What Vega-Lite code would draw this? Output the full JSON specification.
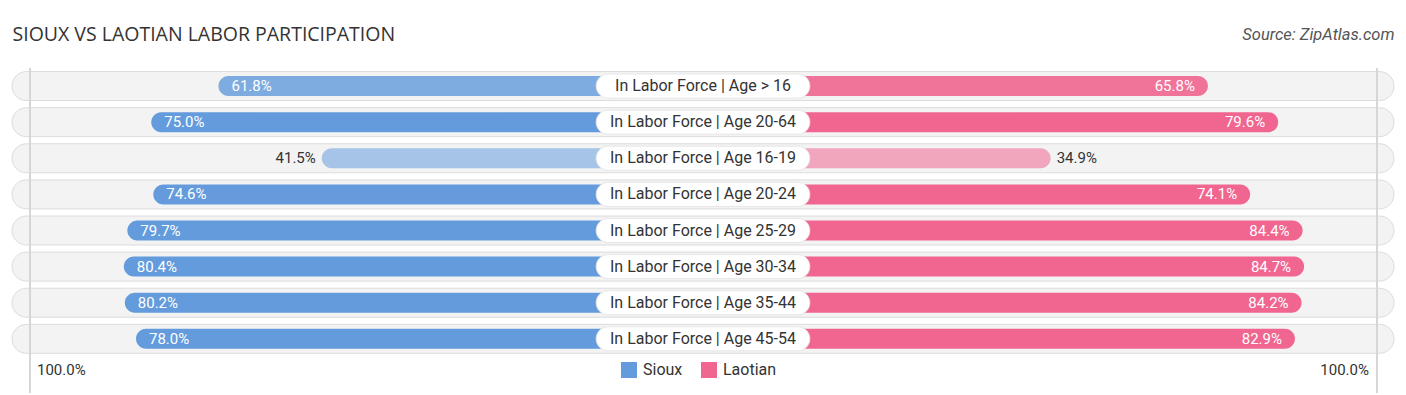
{
  "$schema": "https://vega.github.io/schema/vega-lite/v6.json",
  "width": 1382,
  "height": 325,
  "autosize": {"type": "none"},
  "padding": {"left": 12, "top": 68, "right": 12, "bottom": 2},
  "background": "white",
  "config": {"view": {"stroke": null}, "font": "Roboto"},
  "data": {
    "values": [
      {"group": "In Labor Force | Age > 16", "series": "Sioux", "value": 0.618},
      {"group": "In Labor Force | Age > 16", "series": "Laotian", "value": 0.658},
      {"group": "In Labor Force | Age 20-64", "series": "Sioux", "value": 0.750},
      {"group": "In Labor Force | Age 20-64", "series": "Laotian", "value": 0.796},
      {"group": "In Labor Force | Age 16-19", "series": "Sioux", "value": 0.415},
      {"group": "In Labor Force | Age 16-19", "series": "Laotian", "value": 0.349},
      {"group": "In Labor Force | Age 20-24", "series": "Sioux", "value": 0.746},
      {"group": "In Labor Force | Age 20-24", "series": "Laotian", "value": 0.741},
      {"group": "In Labor Force | Age 25-29", "series": "Sioux", "value": 0.797},
      {"group": "In Labor Force | Age 25-29", "series": "Laotian", "value": 0.844},
      {"group": "In Labor Force | Age 30-34", "series": "Sioux", "value": 0.804},
      {"group": "In Labor Force | Age 30-34", "series": "Laotian", "value": 0.847},
      {"group": "In Labor Force | Age 35-44", "series": "Sioux", "value": 0.802},
      {"group": "In Labor Force | Age 35-44", "series": "Laotian", "value": 0.842},
      {"group": "In Labor Force | Age 45-54", "series": "Sioux", "value": 0.780},
      {"group": "In Labor Force | Age 45-54", "series": "Laotian", "value": 0.829}
    ]
  },
  "layer": [
    {
      "layer": [
        {
          "transform": [{"filter": "datum.series === 'Sioux'"}],
          "mark": {"type": "bar", "fill": "#f3f3f3", "stroke": "#dcdcdc", "strokeWidth": 1, "cornerRadius": 14.5, "size": 29},
          "encoding": {
            "y": {
              "field": "group",
              "type": "nominal",
              "scale": {
                "domain": [
                  "In Labor Force | Age > 16",
                  "In Labor Force | Age 20-64",
                  "In Labor Force | Age 16-19",
                  "In Labor Force | Age 20-24",
                  "In Labor Force | Age 25-29",
                  "In Labor Force | Age 30-34",
                  "In Labor Force | Age 35-44",
                  "In Labor Force | Age 45-54",
                  "axis"
                ],
                "paddingInner": 0,
                "paddingOuter": 0
              },
              "axis": null
            },
            "x": {
              "datum": 1.0236,
              "type": "quantitative",
              "scale": {"domain": [-1.6916, 1.0236], "reverse": true, "nice": false, "zero": false},
              "axis": {
                "orient": "top",
                "values": [],
                "labels": false,
                "ticks": false,
                "domain": false,
                "grid": false,
                "title": "SIOUX VS LAOTIAN LABOR PARTICIPATION",
                "titleX": 0,
                "titleY": -28,
                "titleAlign": "left",
                "titleBaseline": "alphabetic",
                "titleFont": "Open Sans",
                "titleFontSize": 19.5,
                "titleFontWeight": "normal",
                "titleColor": "#333333"
              }
            },
            "x2": {"datum": -1.6916}
          }
        },
        {
          "mark": {"type": "rule", "color": "#d6d6d6", "strokeWidth": 1},
          "encoding": {"x": {"datum": 0.988, "type": "quantitative"}}
        },
        {
          "transform": [{"filter": "datum.series === 'Sioux'"}],
          "mark": {"type": "bar", "size": 20, "cornerRadius": 10},
          "encoding": {
            "y": {"field": "group", "type": "nominal", "axis": null},
            "x": {"field": "value", "type": "quantitative"},
            "x2": {"datum": -0.334},
            "color": {
              "field": "series",
              "type": "nominal",
              "scale": {"domain": ["Sioux", "Laotian"], "range": ["#649bdc", "#f06690"]},
              "legend": {
                "orient": "none",
                "legendX": 609,
                "legendY": 294,
                "direction": "horizontal",
                "title": null,
                "symbolType": "square",
                "symbolSize": 256,
                "symbolStrokeWidth": 0,
                "symbolOpacity": 1,
                "labelFontSize": 16,
                "labelColor": "#333333",
                "labelFont": "Roboto",
                "labelOffset": 6,
                "columnPadding": 18,
                "padding": 0
              }
            },
            "opacity": {
              "field": "value",
              "type": "quantitative",
              "scale": {"domain": [0.024, 0.749], "range": [0, 1], "clamp": true},
              "legend": null
            }
          }
        },
        {
          "transform": [{"filter": "datum.series === 'Sioux' && datum.value >= 0.5"}],
          "mark": {"type": "text", "align": "left", "dx": 13, "color": "white", "fontSize": 15, "baseline": "middle"},
          "encoding": {
            "y": {"field": "group", "type": "nominal", "axis": null},
            "x": {"field": "value", "type": "quantitative"},
            "text": {"field": "value", "type": "quantitative", "format": ".1%"}
          }
        },
        {
          "transform": [{"filter": "datum.series === 'Sioux' && datum.value < 0.5"}],
          "mark": {"type": "text", "align": "right", "dx": -6, "color": "#333333", "fontSize": 15, "baseline": "middle"},
          "encoding": {
            "y": {"field": "group", "type": "nominal", "axis": null},
            "x": {"field": "value", "type": "quantitative"},
            "text": {"field": "value", "type": "quantitative", "format": ".1%"}
          }
        },
        {
          "transform": [{"filter": "datum.series === 'Sioux'"}, {"aggregate": [{"op": "count", "as": "n"}]}],
          "mark": {"type": "text", "align": "left", "dx": 13, "dy": -5, "color": "#333333", "fontSize": 15, "baseline": "middle"},
          "encoding": {
            "x": {"datum": 1, "type": "quantitative"},
            "y": {"datum": "axis", "type": "nominal", "axis": null},
            "text": {"value": "100.0%"}
          }
        }
      ]
    },
    {
      "layer": [
        {
          "mark": {"type": "rule", "color": "#d6d6d6", "strokeWidth": 1},
          "encoding": {
            "x": {
              "datum": 0.99,
              "type": "quantitative",
              "scale": {"domain": [-1.6916, 1.0236], "nice": false, "zero": false},
              "axis": {
                "orient": "top",
                "values": [],
                "labels": false,
                "ticks": false,
                "domain": false,
                "grid": false,
                "title": "Source: ZipAtlas.com",
                "titleX": 1382,
                "titleY": -29,
                "titleAlign": "right",
                "titleBaseline": "alphabetic",
                "titleFont": "Roboto",
                "titleFontSize": 16.5,
                "titleFontStyle": "italic",
                "titleFontWeight": "normal",
                "titleColor": "#555555"
              }
            }
          }
        },
        {
          "transform": [{"filter": "datum.series === 'Laotian'"}],
          "mark": {"type": "bar", "size": 20, "cornerRadius": 10},
          "encoding": {
            "y": {"field": "group", "type": "nominal", "axis": null},
            "x": {"field": "value", "type": "quantitative"},
            "x2": {"datum": -0.334},
            "color": {"field": "series", "type": "nominal"},
            "opacity": {
              "field": "value",
              "type": "quantitative",
              "scale": {"domain": [-0.13, 0.741], "range": [0, 1], "clamp": true},
              "legend": null
            }
          }
        },
        {
          "transform": [{"filter": "datum.series === 'Sioux'"}],
          "mark": {"type": "bar", "fill": "white", "stroke": "#e2e2e2", "strokeWidth": 0.8, "cornerRadius": 12, "size": 24},
          "encoding": {
            "y": {"field": "group", "type": "nominal", "axis": null},
            "x": {"datum": -0.544, "type": "quantitative"},
            "x2": {"datum": -0.124}
          }
        },
        {
          "transform": [{"filter": "datum.series === 'Sioux'"}],
          "mark": {"type": "text", "align": "center", "baseline": "middle", "color": "#333333", "fontSize": 16},
          "encoding": {
            "y": {"field": "group", "type": "nominal", "axis": null},
            "x": {"datum": -0.334, "type": "quantitative"},
            "text": {"field": "group", "type": "nominal"}
          }
        },
        {
          "transform": [{"filter": "datum.series === 'Laotian' && datum.value >= 0.5"}],
          "mark": {"type": "text", "align": "right", "dx": -13, "color": "white", "fontSize": 15, "baseline": "middle"},
          "encoding": {
            "y": {"field": "group", "type": "nominal", "axis": null},
            "x": {"field": "value", "type": "quantitative"},
            "text": {"field": "value", "type": "quantitative", "format": ".1%"}
          }
        },
        {
          "transform": [{"filter": "datum.series === 'Laotian' && datum.value < 0.5"}],
          "mark": {"type": "text", "align": "left", "dx": 6, "color": "#333333", "fontSize": 15, "baseline": "middle"},
          "encoding": {
            "y": {"field": "group", "type": "nominal", "axis": null},
            "x": {"field": "value", "type": "quantitative"},
            "text": {"field": "value", "type": "quantitative", "format": ".1%"}
          }
        },
        {
          "transform": [{"filter": "datum.series === 'Sioux'"}, {"aggregate": [{"op": "count", "as": "n"}]}],
          "mark": {"type": "text", "align": "right", "dx": -13, "dy": -5, "color": "#333333", "fontSize": 15, "baseline": "middle"},
          "encoding": {
            "x": {"datum": 1, "type": "quantitative"},
            "y": {"datum": "axis", "type": "nominal", "axis": null},
            "text": {"value": "100.0%"}
          }
        }
      ]
    }
  ],
  "resolve": {"scale": {"x": "independent", "opacity": "independent"}}
}
